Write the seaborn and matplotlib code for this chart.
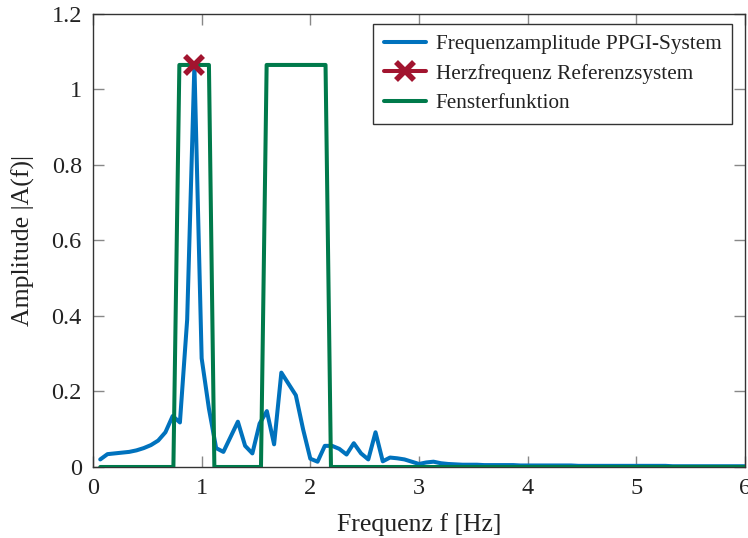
import numpy as np
import pandas as pd
import seaborn as sns
import matplotlib.pyplot as plt

# spectrum samples (df = 1/15 Hz)
freq = [k / 15 for k in range(1, 91)]
amp = [0.020, 0.034, 0.036, 0.038, 0.040, 0.044, 0.050, 0.058, 0.070, 0.092,
       0.135, 0.118, 0.390, 1.065, 0.288, 0.155, 0.050, 0.040, 0.080, 0.120,
       0.056, 0.036, 0.115, 0.148, 0.060, 0.250, 0.220, 0.190, 0.100, 0.022,
       0.014, 0.056, 0.056, 0.048, 0.033, 0.063, 0.036, 0.020, 0.092, 0.015,
       0.025, 0.023, 0.020, 0.014, 0.008, 0.012, 0.014, 0.010, 0.008, 0.007,
       0.006, 0.006, 0.006, 0.005, 0.005, 0.005, 0.005, 0.005, 0.004, 0.004,
       0.004, 0.004, 0.004, 0.004, 0.004, 0.004, 0.003, 0.003, 0.003, 0.003,
       0.003, 0.003, 0.003, 0.003, 0.003, 0.003, 0.003, 0.003, 0.003, 0.002,
       0.002, 0.002, 0.002, 0.002, 0.002, 0.002, 0.002, 0.002, 0.002, 0.002]

# reference heart rate
ref_f = [0.933]
ref_a = [1.065]

# window function
win_f = [0.067, 0.74, 0.795, 1.067, 1.117, 1.546, 1.598, 2.14, 2.19, 6.0]
win_a = [0, 0, 1.065, 1.065, 0, 0, 1.065, 1.065, 0, 0]

blue = "#0072BD"
red = "#A2142F"
green = "#007A4B"

sns.set_style("ticks")
plt.rcParams["font.family"] = ["Liberation Serif", "DejaVu Serif"]

fig = plt.figure(figsize=(7.48, 5.38), dpi=100)
ax = fig.add_axes([0.1243, 0.132, 0.8717, 0.842])

spec = pd.DataFrame({"f": freq, "a": amp})
win = pd.DataFrame({"f": win_f, "a": win_a})

sns.lineplot(data=spec, x="f", y="a", color=blue, lw=2.9, sort=False,
             label="Frequenzamplitude PPGI-System", ax=ax, zorder=2)
ax.plot(ref_f, ref_a, color=red, lw=2.9, marker="x", markersize=13,
        markeredgewidth=4, linestyle="-",
        label="Herzfrequenz Referenzsystem", zorder=4)
sns.lineplot(data=win, x="f", y="a", color=green, lw=2.9, sort=False,
             label="Fensterfunktion", ax=ax, zorder=3)

ax.set_xlim(0, 6)
ax.set_ylim(0, 1.2)
ax.set_xticks([0, 1, 2, 3, 4, 5, 6])
ax.set_yticks([0, 0.2, 0.4, 0.6, 0.8, 1.0, 1.2])
ax.set_yticklabels(["0", "0.2", "0.4", "0.6", "0.8", "1", "1.2"])
ax.tick_params(direction="in", length=8, width=1, color="#888888",
               labelsize=17.5, top=True, right=True, pad=8, labelcolor="#222222")
for s in ax.spines.values():
    s.set_visible(True)
    s.set_color("#333333")
    s.set_linewidth(1.0)

ax.set_xlabel("Frequenz f [Hz]", fontsize=18.5, color="#222222", labelpad=10)
ax.set_ylabel("Amplitude |A(f)|", fontsize=18.5, color="#222222", labelpad=12)

leg = ax.legend(loc="upper right", bbox_to_anchor=(0.980, 0.978),
                fontsize=15.3, frameon=True, fancybox=False,
                edgecolor="#333333", framealpha=1, handlelength=2.0,
                handletextpad=0.45, borderpad=0.5,
                borderaxespad=0, labelspacing=0.45)
leg.get_frame().set_linewidth(1.0)
for t in leg.get_texts():
    t.set_color("#222222")

fig.savefig("out.png", dpi=100)
